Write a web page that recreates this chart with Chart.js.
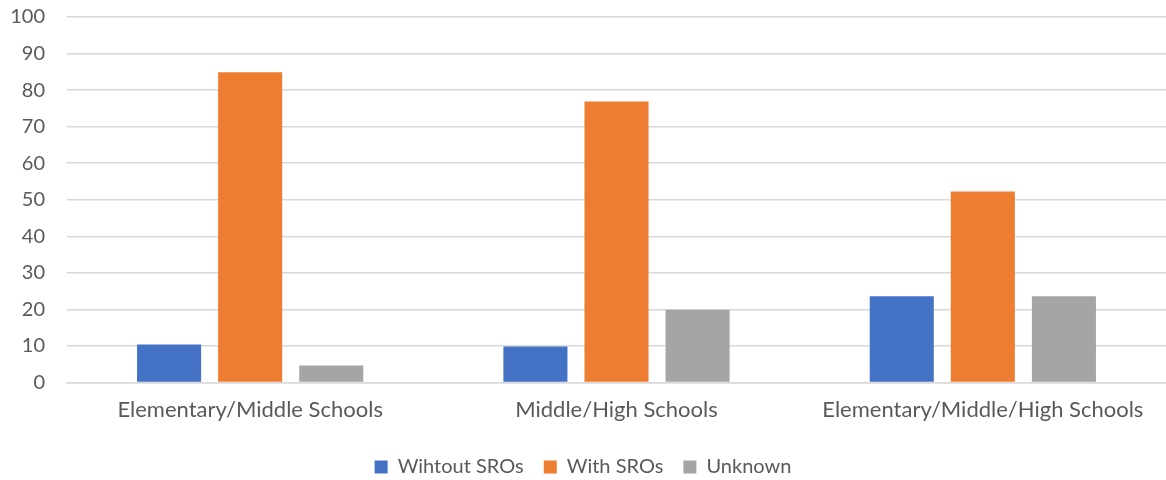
<!DOCTYPE html>
<html>
<head>
<meta charset="utf-8">
<script src="https://cdn.jsdelivr.net/npm/chart.js@4.4.1/dist/chart.umd.min.js"></script>
<style>
html,body{margin:0;padding:0;background:#fff;}
#wrap{width:1166px;height:480px;position:relative;}
</style>
</head>
<body>
<div id="wrap"><canvas id="c"></canvas></div>
<script>
const categories = ["Elementary/Middle Schools", "Middle/High Schools", "Elementary/Middle/High Schools"];
const seriesNames = ["Wihtout SROs", "With SROs", "Unknown"];
const withoutSROs = [10.4, 9.9, 23.6];
const withSROs = [84.9, 76.9, 52.3];
const unknown = [4.7, 19.9, 23.6];
const yTicks = [0, 10, 20, 30, 40, 50, 60, 70, 80, 90, 100];
const colors = ["#4472C4", "#ED7D31", "#A5A5A5"];

const FONT = "Lato, 'Open Sans', sans-serif";
const textColor = "#595959";

const mk = (label, data, color) => ({
  label, data, backgroundColor: color, borderWidth: 0,
  categoryPercentage: 0.664, barPercentage: 0.79
});

new Chart(document.getElementById('c'), {
  type: 'bar',
  data: {
    labels: categories,
    datasets: [
      mk(seriesNames[0], withoutSROs, colors[0]),
      mk(seriesNames[1], withSROs, colors[1]),
      mk(seriesNames[2], unknown, colors[2])
    ]
  },
  options: {
    responsive: true,
    maintainAspectRatio: false,
    animation: false,
    layout: { padding: { left: 0, right: 0, top: 17, bottom: -7 } },
    plugins: {
      tooltip: { enabled: false },
      legend: {
        position: 'bottom',
        labels: {
          font: { family: FONT, size: 20 },
          color: textColor,
          boxWidth: 13, boxHeight: 13,
          padding: 20
        }
      }
    },
    scales: {
      x: {
        grid: { display: false, drawTicks: false },
        border: { display: true, color: '#d9d9d9', width: 1.5 },
        ticks: { font: { family: FONT, size: 22 }, color: textColor, padding: 14, maxRotation: 0 }
      },
      y: {
        min: 0, max: 100,
        afterBuildTicks: s => { s.ticks = yTicks.map(v => ({ value: v })); },
        afterFit: s => { s.width = 67; s.paddingTop = 0; s.paddingBottom = 0; },
        grid: { color: '#d9d9d9', lineWidth: 1.5, drawTicks: false },
        border: { display: false },
        ticks: { font: { family: FONT, size: 20 }, color: textColor, padding: 22 }
      }
    }
  }
});
</script>
</body>
</html>
